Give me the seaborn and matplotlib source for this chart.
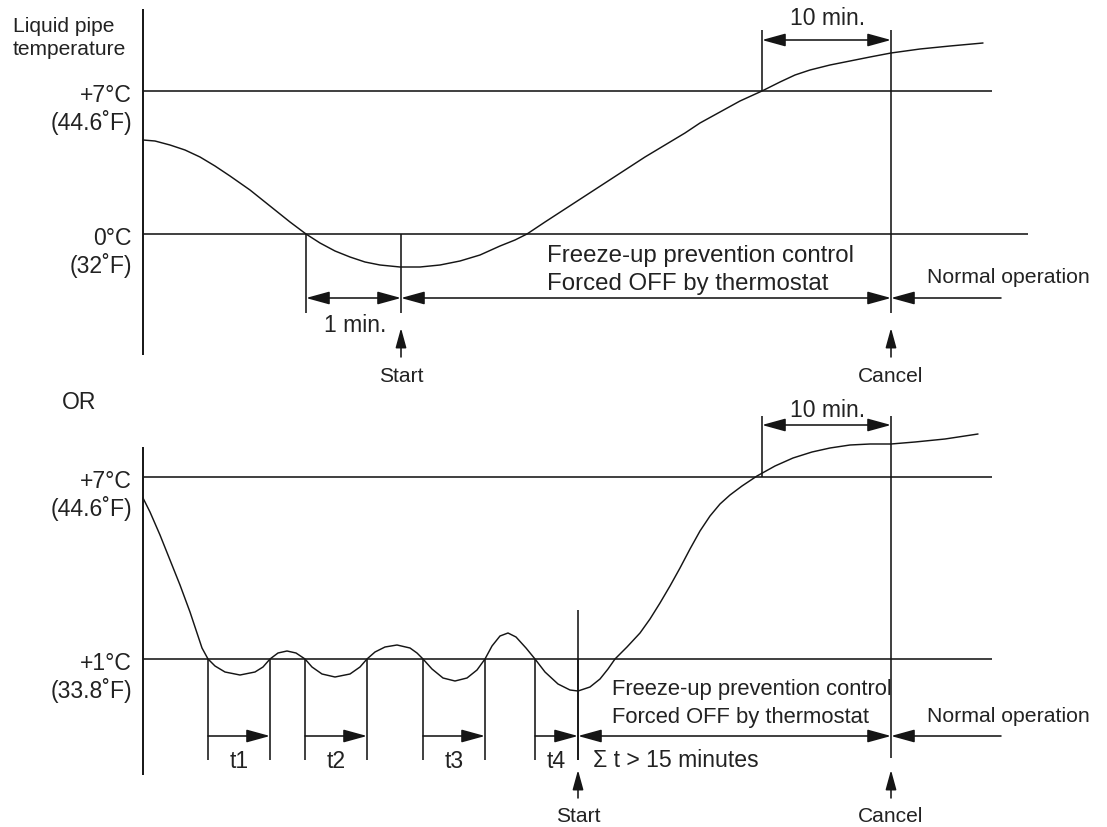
import matplotlib
matplotlib.use("Agg")
import matplotlib.pyplot as plt
import seaborn as sns

# --- data (diagram units: x = time, y = temperature level, both in drawing units) ---
# upper case: pipe temperature falls below 0 C
top_time = [143, 155, 170, 185, 200, 215, 230, 250, 270, 290, 306, 320, 335, 350, 365, 380,
            400, 420, 440, 460, 480, 500, 515, 527, 545, 565, 585, 605, 625, 645, 665, 685,
            700, 720, 740, 762, 780, 795, 810, 830, 850, 870, 891, 920, 950, 983]
top_temp = [140, 141, 145, 150, 157, 166, 176, 190, 206, 222, 234, 243, 251, 257, 262, 265,
            267, 267, 265, 261, 255, 246, 240, 234, 222, 209, 196, 183, 170, 157, 145, 133,
            123, 112, 101, 91, 82, 75, 70, 65, 61, 57, 53, 49, 46, 43]
top_levels = [91, 234]
top_level_labels = [("+7°C", "(44.6˚F)"), ("0°C", "(32˚F)")]
top_below0 = 306
top_start = 401
top_warm = 762
top_cancel = 891

# lower case: pipe temperature hovers around +1 C
bot_time = [143, 150, 160, 170, 180, 190, 197, 202, 208, 215, 225, 240, 255, 263, 270, 278,
            287, 296, 305, 312, 322, 335, 350, 360, 367, 375, 385, 397, 410, 417, 423, 432,
            443, 455, 467, 477, 485, 492, 500, 508, 516, 526, 535, 545, 558, 570, 578, 590,
            600, 608, 615, 627, 640, 650, 660, 670, 680, 690, 700, 710, 720, 730, 742, 757,
            775, 793, 812, 830, 850, 870, 891, 915, 945, 978]
bot_temp = [498, 512, 535, 560, 585, 612, 633, 648, 659, 666, 672, 675, 672, 667, 659, 653,
            651, 653, 659, 667, 674, 677, 674, 667, 659, 652, 647, 645, 648, 653, 659, 669,
            678, 681, 678, 670, 659, 646, 636, 633, 637, 648, 659, 672, 684, 690, 691, 687,
            679, 669, 659, 647, 633, 619, 603, 586, 568, 549, 531, 516, 504, 495, 486, 476,
            466, 458, 452, 448, 445, 444, 444, 442, 439, 434]
bot_levels = [477, 659]
bot_level_labels = [("+7°C", "(44.6˚F)"), ("+1°C", "(33.8˚F)")]
t_starts = [208, 305, 423, 535]
t_ends = [270, 367, 485, 578]
t_names = ["t1", "t2", "t3", "t4"]
bot_start = 578
bot_warm = 762
bot_cancel = 891
normal_end = 1001

# --- style ---
sns.set_theme(style="white")
plt.rcParams["font.family"] = ["Liberation Sans", "DejaVu Sans"]
INK = "#151515"
TXT = "#222222"


def px(v):
    return v * 72 / 100


fig = plt.figure(figsize=(11.07, 8.27), dpi=100)
ax = fig.add_axes([0, 0, 1, 1])
ax.set_xlim(0, 1107)
ax.set_ylim(827, 0)
ax.axis("off")

LW = 1.15
head = "-|>,head_length=0.8,head_width=0.22"
both = "<|-|>,head_length=0.8,head_width=0.22"


def arrow(x0, y0, x1, y1, style=head, ms=18):
    ax.annotate("", xy=(x1, y1), xytext=(x0, y0),
                arrowprops=dict(arrowstyle=style, color=INK, lw=LW, mutation_scale=ms,
                                shrinkA=0, shrinkB=0))


def label(x, y, s, size=23, ha="left"):
    ax.text(x, y, s, ha=ha, va="baseline", fontsize=px(size), color=TXT)


# ---------------- upper chart ----------------
ax.vlines(143, 9, 355, color=INK, lw=1.4)
ax.hlines(top_levels[0], 143, 992, color=INK, lw=LW)
ax.hlines(top_levels[1], 143, 1028, color=INK, lw=LW)
sns.lineplot(x=top_time, y=top_temp, sort=False, estimator=None, color=INK, lw=1.05, ax=ax)

ax.vlines([top_below0, top_start], top_levels[1], 313, color=INK, lw=LW)
ax.vlines(top_warm, 30, top_levels[0], color=INK, lw=LW)
ax.vlines(top_cancel, 30, 313, color=INK, lw=LW)

arrow(top_below0, 298, top_start, 298, style=both)
arrow(top_start, 298, top_cancel, 298, style=both)
arrow(normal_end, 298, top_cancel, 298)
arrow(top_warm, 40, top_cancel, 40, style=both)
arrow(top_start, 357, top_start, 328, ms=15)
arrow(top_cancel, 357, top_cancel, 328, ms=15)

label(13, 32, "Liquid pipe", 21)
label(13, 55, "temperature", 21)
for lvl, (c, f) in zip(top_levels, top_level_labels):
    label(132, lvl + 11, c, ha="right")
    label(132, lvl + 39, f, ha="right")
label(828, 25, "10 min.", ha="center")
label(355, 332, "1 min.", ha="center")
label(547, 262, "Freeze-up prevention control", 24)
label(547, 290, "Forced OFF by thermostat", 24)
label(927, 283, "Normal operation", 21.3)
label(top_start, 382, "Start", 21, ha="center")
label(top_cancel, 382, "Cancel", 21, ha="center")

# ---------------- lower chart ----------------
label(62, 409, "OR", 23)
ax.vlines(143, 447, 775, color=INK, lw=1.4)
ax.hlines(bot_levels, 143, 992, color=INK, lw=LW)
sns.lineplot(x=bot_time, y=bot_temp, sort=False, estimator=None, color=INK, lw=1.05, ax=ax)

ax.vlines(t_starts + t_ends, bot_levels[1], 760, color=INK, lw=LW)
ax.vlines(bot_start, 610, 760, color=INK, lw=LW)
ax.vlines(bot_warm, 416, bot_levels[0], color=INK, lw=LW)
ax.vlines(bot_cancel, 416, 758, color=INK, lw=LW)

for a, b, name in zip(t_starts, t_ends, t_names):
    arrow(a, 736, b, 736)
    label((a + b) / 2, 768, name, ha="center")
arrow(bot_start, 736, bot_cancel, 736, style=both)
arrow(normal_end, 736, bot_cancel, 736)
arrow(bot_warm, 425, bot_cancel, 425, style=both)
arrow(bot_start, 798, bot_start, 770, ms=15)
arrow(bot_cancel, 798, bot_cancel, 770, ms=15)

for lvl, (c, f) in zip(bot_levels, bot_level_labels):
    label(132, lvl + 11, c, ha="right")
    label(132, lvl + 39, f, ha="right")
label(828, 417, "10 min.", ha="center")
label(612, 695, "Freeze-up prevention control", 22)
label(612, 723, "Forced OFF by thermostat", 22)
label(593, 767, "Σ t > 15 minutes", 23)
label(927, 722, "Normal operation", 21.3)
label(bot_start, 822, "Start", 21, ha="center")
label(bot_cancel, 822, "Cancel", 21, ha="center")

fig.savefig("out.png", dpi=100)
